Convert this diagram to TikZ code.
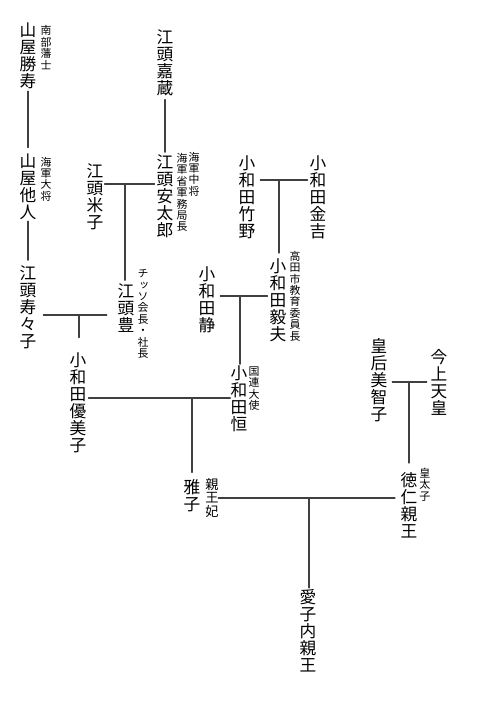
\documentclass[tikz,border=0pt]{standalone}
\usepackage{fontspec}
\newfontfamily\tatefont[RawFeature=+vert]{Noto Sans CJK JP}

\begin{document}
\begin{tikzpicture}[x=0.02cm,y=-0.02cm,line cap=round,
  person/.style={font=\tatefont\fontsize{9.5}{9.7}\selectfont,align=center,inner sep=0pt},
  note/.style={font=\tatefont\fontsize{6.2}{6.5}\selectfont,align=center,inner sep=0pt},
  link/.style={draw=black!75,line width=0.6pt}]
\useasboundingbox (0,0) rectangle (500,720);
% people
\node[person] (katsutoshi) at (28,56) {山\\屋\\勝\\寿};
\node[person] (kazo) at (165,62.5) {江\\頭\\嘉\\蔵};
\node[person] (tanin) at (28,187) {山\\屋\\他\\人};
\node[person] (yoneko) at (95,197) {江\\頭\\米\\子};
\node[person] (yasutaro) at (165,196) {江\\頭\\安\\太\\郎};
\node[person] (takeno) at (247,197.5) {小\\和\\田\\竹\\野};
\node[person] (kinkichi) at (318,197.5) {小\\和\\田\\金\\吉};
\node[person] (takeo) at (278,300) {小\\和\\田\\毅\\夫};
\node[person] (shizuka) at (207,299.5) {小\\和\\田\\静};
\node[person] (sumiko) at (28,307.5) {江\\頭\\寿\\々\\子};
\node[person] (yutaka) at (126,308) {江\\頭\\豊};
\node[person] (yumiko) at (78,403) {小\\和\\田\\優\\美\\子};
\node[person] (hisashi) at (239,398.5) {小\\和\\田\\恒};
\node[person] (masako) at (192,496) {雅\\子};
\node[person] (tenno) at (439,382.5) {今\\上\\天\\皇};
\node[person] (michiko) at (379,380.5) {皇\\后\\美\\智\\子};
\node[person] (naruhito) at (409,505) {徳\\仁\\親\\王};
\node[person] (aiko) at (308,630.5) {愛\\子\\内\\親\\王};
% titles
\node[note] (katsutoshi-t) at (46,47.5) {南\\部\\藩\\士};
\node[note] (tanin-t) at (46,179) {海\\軍\\大\\将};
\node[note] (yasutaro-t1) at (194,174) {海\\軍\\中\\将};
\node[note] (yasutaro-t2) at (182,192.5) {海\\軍\\省\\軍\\務\\局\\長};
\node[note] (takeo-t) at (295,296) {高\\田\\市\\教\\育\\委\\員\\長};
\node[note] (yutaka-t) at (143,314) {チ\\ッ\\ソ\\会\\長\\・\\社\\長};
\node[note] (hisashi-t) at (254,388.5) {国\\連\\大\\使};
\node[note,font=\tatefont\fontsize{7.5}{7.8}\selectfont] (masako-t) at (212,498) {親\\王\\妃};
\node[note,font=\tatefont\fontsize{6.3}{6.6}\selectfont] (naruhito-t) at (425,484.5) {皇\\太\\子};
% couples
\coordinate (c1) at (125,184);
\coordinate (c2) at (279,180);
\coordinate (c3) at (240,296);
\coordinate (c4) at (79,315);
\coordinate (c5) at (192,398);
\coordinate (c6) at (409,382);
\coordinate (c7) at (309,498);
\draw[link,shorten <=0.5pt,shorten >=1pt] (yoneko.east |- c1) -- (yasutaro.west |- c1);
\draw[link,shorten <=2.6pt,shorten >=1pt] (takeno.east |- c2) -- (kinkichi.west |- c2);
\draw[link,shorten <=2.6pt,shorten >=1pt] (shizuka.east |- c3) -- (takeo.west |- c3);
\draw[link,shorten <=3.8pt,shorten >=6pt] (sumiko.east |- c4) -- (yutaka.west |- c4);
\draw[link,shorten <=1pt] (yumiko.east |- c5) -- (hisashi.west |- c5);
\draw[link,shorten <=2.6pt,shorten >=2pt] (michiko.east |- c6) -- (tenno.west |- c6);
\draw[link,shorten <=10pt,shorten >=3pt] (masako.east |- c7) -- (naruhito.west |- c7);
% children
\draw[link,shorten >=1.7pt] (c1) -- (c1 |- yutaka.north);
\draw[link,shorten >=2.8pt] (c2) -- (c2 |- takeo.north);
\draw[link,shorten >=0.5pt] (c3) -- (c3 |- hisashi.north);
\draw[link,shorten >=8.5pt] (c4) -- (c4 |- yumiko.north);
\draw[link,shorten >=4pt] (c5) -- (c5 |- masako.north);
\draw[link,shorten >=5pt] (c6) -- (c6 |- naruhito.north);
\draw[link,shorten >=0.5pt] (c7) -- (c7 |- aiko.north);
\draw[link,shorten <=1pt,shorten >=3.5pt] (katsutoshi) -- (tanin);
\draw[link,shorten <=2pt,shorten >=1pt] (kazo) -- (yasutaro);
\draw[link,shorten <=0.5pt,shorten >=3pt] (tanin) -- (sumiko);
\end{tikzpicture}
\end{document}
